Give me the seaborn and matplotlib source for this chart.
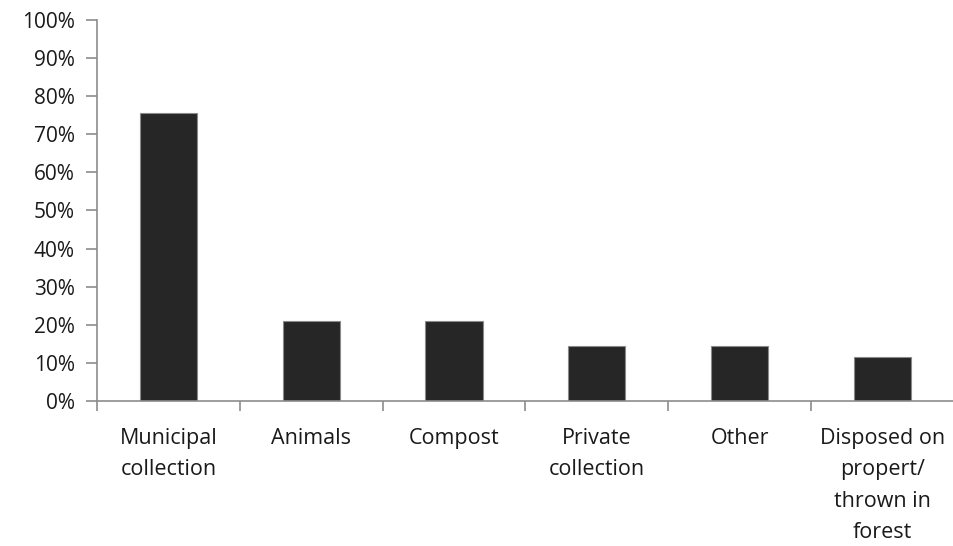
import matplotlib
matplotlib.use("Agg")
import matplotlib.pyplot as plt
import seaborn as sns
import numpy as np
import pandas as pd
from matplotlib.ticker import FixedLocator, PercentFormatter

categories = ["Municipal\ncollection", "Animals", "Compost", "Private\ncollection",
              "Other", "Disposed on\npropert/\nthrown in\nforest"]
values = [75.5, 21.0, 21.0, 14.3, 14.3, 11.6]
y_ticks = [0, 10, 20, 30, 40, 50, 60, 70, 80, 90, 100]

sns.set_theme(style="white")
plt.rcParams['font.family'] = ['Open Sans', 'DejaVu Sans']

fig = plt.figure(figsize=(9.54, 5.46), dpi=100)
ax = fig.add_axes([0.1017, 0.2656, 0.898, 0.6978])

df = pd.DataFrame({"cat": categories, "val": values})
sns.barplot(data=df, x="cat", y="val", color="#262626", width=0.4,
            edgecolor="#8a8a8a", linewidth=0.8, saturation=1, ax=ax)

ax.set_ylim(0, 100)
ax.set_xlim(-0.5, len(categories) - 0.5)
ax.yaxis.set_major_locator(FixedLocator(y_ticks))
ax.yaxis.set_major_formatter(PercentFormatter(decimals=0))
ax.set_xlabel("")
ax.set_ylabel("")

for s in ["top", "right"]:
    ax.spines[s].set_visible(False)
for s in ["left", "bottom"]:
    ax.spines[s].set_color("#8c8c8c")
    ax.spines[s].set_linewidth(1.2)

ax.tick_params(axis="y", which="major", left=True, length=8, width=1.2,
               color="#8c8c8c", labelsize=15, labelcolor="#1a1a1a", pad=8)
ax.set_xticks(np.arange(-0.5, len(categories), 1.0), minor=True)
ax.tick_params(axis="x", which="minor", bottom=True, length=7, width=1.2, color="#8c8c8c")
ax.tick_params(axis="x", which="major", bottom=False, length=0, labelsize=15.5,
               labelcolor="#1a1a1a", pad=19.5)
for lbl in ax.get_xticklabels():
    lbl.set_linespacing(1.65)
    lbl.set_verticalalignment("top")
    lbl.set_horizontalalignment("center")

ax.grid(False)
fig.savefig("out.png", dpi=100, facecolor="white")
